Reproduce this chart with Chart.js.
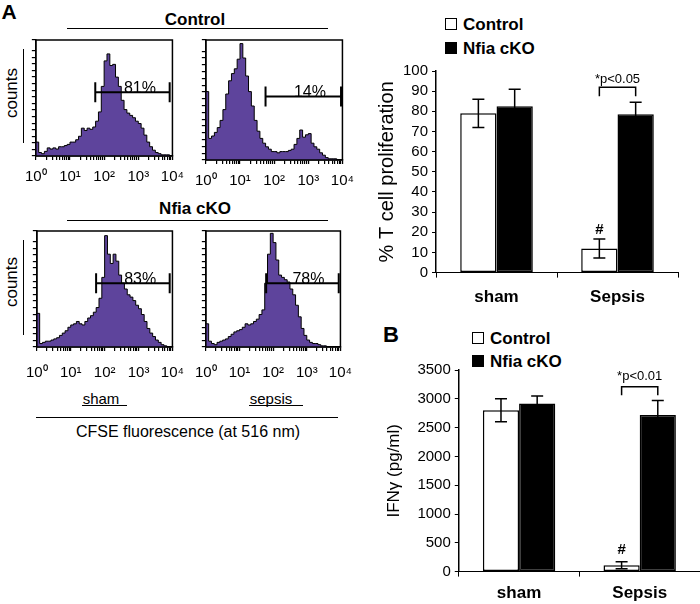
<!DOCTYPE html>
<html>
<head>
<meta charset="utf-8">
<script src="https://cdn.jsdelivr.net/npm/chart.js@4.4.0/dist/chart.umd.min.js"></script>
<style>
body{margin:0;width:700px;height:604px;background:#fff;position:relative;overflow:hidden;font-family:"Liberation Sans",Arial,sans-serif;color:#000}
canvas{position:absolute}
.t{position:absolute;white-space:nowrap;line-height:1;transform:translate(-50%,-50%)}
.l{position:absolute;white-space:nowrap;line-height:1;transform:translateY(-50%)}
.b{font-weight:bold}
.hl{position:absolute;height:0;border-top:1.5px solid #000}
.vl{position:absolute;width:0;border-left:1.5px solid #000}
.sq{position:absolute;box-sizing:border-box;border:1.5px solid #000}
</style>
</head>
<body>
<div class="t b" style="left:9px;top:11px;font-size:21px">A</div>
<div class="t b" style="left:195px;top:19px;font-size:17px">Control</div>
<div class="hl" style="left:67px;top:28px;width:261px"></div>
<div class="t b" style="left:195px;top:208px;font-size:17px">Nfia cKO</div>
<div class="hl" style="left:67px;top:220px;width:261px"></div>
<div class="t" style="left:11px;top:93px;font-size:17px;transform:translate(-50%,-50%) rotate(-90deg)">counts</div>
<div class="vl" style="left:23px;top:49px;height:94px"></div>
<div class="t" style="left:11px;top:282px;font-size:17px;transform:translate(-50%,-50%) rotate(-90deg)">counts</div>
<div class="vl" style="left:23px;top:240px;height:95px"></div>
<div class="t" style="left:101px;top:398px;font-size:15px">sham</div>
<div class="hl" style="left:82px;top:405px;width:45px;border-top-width:1px"></div>
<div class="t" style="left:271px;top:398px;font-size:15px">sepsis</div>
<div class="hl" style="left:249px;top:405px;width:54px;border-top-width:1px"></div>
<div class="hl" style="left:36px;top:417px;width:302px"></div>
<div class="t" style="left:188px;top:432px;font-size:16px">CFSE fluorescence (at 516 nm)</div>

<div class="sq" style="left:445px;top:18px;width:12px;height:12px"></div>
<div class="l b" style="left:463px;top:24px;font-size:17px">Control</div>
<div class="sq" style="left:445px;top:42px;width:12px;height:12px;background:#000"></div>
<div class="l b" style="left:463px;top:48px;font-size:17px">Nfia cKO</div>
<div class="t b" style="left:391px;top:335px;font-size:22px">B</div>
<div class="sq" style="left:472px;top:332px;width:12px;height:12px"></div>
<div class="l b" style="left:490px;top:338px;font-size:17px">Control</div>
<div class="sq" style="left:472px;top:355px;width:12px;height:12px;background:#000"></div>
<div class="l b" style="left:490px;top:361px;font-size:17px">Nfia cKO</div>

<canvas id="h1" style="left:17px;top:38px" width="175" height="156"></canvas>
<canvas id="h2" style="left:187px;top:38px" width="175" height="160"></canvas>
<canvas id="h3" style="left:13px;top:229px" width="184" height="166"></canvas>
<canvas id="h4" style="left:182px;top:229px" width="183" height="166"></canvas>
<canvas id="barA" style="left:370px;top:58px" width="330" height="260"></canvas>
<canvas id="barB" style="left:380px;top:355px" width="320" height="256"></canvas>

<script>
// CFSE histograms: 12 log bins per decade from 10^0 to 10^4, height as % of frame
const binsPerDecade = 12;
const decadeLabels = ['10⁰', '10¹', '10²', '10³', '10⁴'];
const shamControl = [12,3,2,4,7,6,7,6,8,8,9,10, 12,12,14,17,24,22,24,23,25,30,38,60, 82,88,78,79,68,60,48,40,37,35,33,30, 28,24,18,12,8,5,3,2,1,1,1,0];
const sepsisControl = [57,18,20,23,27,33,42,55,66,72,76,84, 97,85,70,57,45,33,24,18,14,11,9,7, 7,6,7,7,7,8,9,13,18,25,19,21, 22,14,11,9,6,4,2,1,1,1,0,0];
const shamCko = [29,3,4,5,5,6,7,8,10,12,14,17, 19,20,22,20,19,22,25,27,30,34,42,60, 96,80,72,80,74,62,55,50,45,43,40,36, 33,28,22,16,12,9,6,4,2,1,0,0];
const sepsisCko = [20,5,3,2,4,5,6,7,9,11,13,14, 15,17,20,19,20,22,24,28,32,55,80,98, 90,75,62,60,58,56,50,45,36,26,16,10, 6,4,3,3,2,1,1,0,0,0,0,0];
const gateLabels = ['81%', '14%', '83%', '78%'];
const gateFrom = [55, 56, 56, 62];
const gateTo = [8300, 9100, 8300, 8900];
const gateLevel = [55, 53, 55, 55];

// bar charts
const groups = ['sham', 'Sepsis'];
const prolifControl = [79, 12];
const prolifControlErr = [7, 4.7];
const prolifCko = [82.5, 78.5];
const prolifCkoErr = [8.5, 6];
const ifnControl = [2800, 110];
const ifnControlErr = [200, 60];
const ifnCko = [2920, 2720];
const ifnCkoErr = [130, 250];

const purple = '#5e449c';
Chart.defaults.font.family = '"Liberation Sans", Arial, sans-serif';
Chart.defaults.color = '#000';

const frame = {
  id: 'frame',
  afterDraw(chart) {
    const a = chart.chartArea, ctx = chart.ctx;
    ctx.save();
    ctx.strokeStyle = '#000';
    ctx.lineWidth = 1.5;
    ctx.strokeRect(a.left, a.top, a.right - a.left, a.bottom - a.top);
    ctx.restore();
  }
};

const gate = {
  id: 'gate',
  afterDatasetsDraw(chart, args, o) {
    const {ctx, scales: {x, y}} = chart;
    const x1 = x.getPixelForValue(o.from), x2 = x.getPixelForValue(o.to);
    const yy = y.getPixelForValue(o.level);
    ctx.save();
    ctx.strokeStyle = '#000';
    ctx.lineWidth = 2;
    ctx.beginPath();
    ctx.moveTo(x1, yy); ctx.lineTo(x2, yy);
    ctx.moveTo(x1, yy - 10); ctx.lineTo(x1, yy + 10);
    ctx.moveTo(x2, yy - 10); ctx.lineTo(x2, yy + 10);
    ctx.stroke();
    ctx.fillStyle = '#000';
    ctx.font = '16px "Liberation Sans", Arial';
    ctx.textAlign = 'center';
    ctx.fillText(o.label, x.getPixelForValue(1120), yy + 1);
    ctx.restore();
  }
};

function histogram(id, counts, g, labelPad) {
  const pts = counts.map((c, i) => ({x: Math.pow(10, i / binsPerDecade), y: c}));
  pts.push({x: 10000, y: 0});
  return new Chart(document.getElementById(id), {
    type: 'line',
    data: {datasets: [{data: pts, stepped: true, fill: 'origin', backgroundColor: purple,
      borderColor: '#000', borderWidth: 1, pointRadius: 0}]},
    options: {
      responsive: false, animation: false,
      layout: {padding: {left: 0, right: 0, top: 2, bottom: 0}},
      plugins: {legend: {display: false}, tooltip: {enabled: false},
        gate: {from: gateFrom[g], to: gateTo[g], level: gateLevel[g], label: gateLabels[g]}},
      scales: {
        x: {
          type: 'logarithmic', min: 1, max: 10000,
          afterBuildTicks: s => {
            const t = [];
            for (let e = 0; e < 4; e++) for (let k = 1; k < 10; k++) t.push({value: k * Math.pow(10, e)});
            t.push({value: 10000});
            s.ticks = t;
          },
          ticks: {autoSkip: false, maxRotation: 0, padding: labelPad, font: {size: 15},
            callback: v => {
              const e = Math.round(Math.log10(v));
              return Math.abs(Math.pow(10, e) - v) < 1e-6 ? decadeLabels[e] : '';
            }},
          grid: {drawOnChartArea: false, tickLength: 4, color: '#000', lineWidth: 1.2},
          border: {color: '#000', width: 1.5}
        },
        y: {
          min: 0, max: 100,
          ticks: {display: false, stepSize: 5.67},
          grid: {drawOnChartArea: false, tickLength: 4, color: '#000', lineWidth: 1.2},
          border: {color: '#000', width: 1.5},
          afterFit: s => { s.width = 0; }
        }
      }
    },
    plugins: [frame, gate]
  });
}

const errorBars = {
  id: 'errorBars',
  afterDatasetsDraw(chart) {
    const {ctx, scales: {y}} = chart;
    ctx.save();
    ctx.strokeStyle = '#000';
    ctx.lineWidth = 1.5;
    chart.data.datasets.forEach((ds, d) => {
      chart.getDatasetMeta(d).data.forEach((bar, i) => {
        const top = y.getPixelForValue(ds.data[i] + ds.err[i]);
        const bot = y.getPixelForValue(ds.data[i] - ds.err[i]);
        ctx.beginPath();
        ctx.moveTo(bar.x, top); ctx.lineTo(bar.x, bot);
        ctx.moveTo(bar.x - 6, top); ctx.lineTo(bar.x + 6, top);
        ctx.moveTo(bar.x - 6, bot); ctx.lineTo(bar.x + 6, bot);
        ctx.stroke();
      });
    });
    ctx.restore();
  }
};

const notes = {
  id: 'notes',
  afterDatasetsDraw(chart, args, o) {
    const {ctx, scales: {y}} = chart;
    const xa = chart.getDatasetMeta(0).data[1].x, xb = chart.getDatasetMeta(1).data[1].x;
    const top = y.getPixelForValue(o.bracket), leg = y.getPixelForValue(o.leg);
    ctx.save();
    ctx.strokeStyle = '#000';
    ctx.lineWidth = 1.5;
    ctx.beginPath();
    ctx.moveTo(xa, leg); ctx.lineTo(xa, top); ctx.lineTo(xb, top); ctx.lineTo(xb, leg);
    ctx.stroke();
    ctx.fillStyle = '#000';
    ctx.textAlign = 'center';
    ctx.textBaseline = 'middle';
    ctx.font = '13px "Liberation Sans", Arial';
    ctx.fillText(o.text, (xa + xb) / 2, y.getPixelForValue(o.textAt));
    ctx.font = 'bold 15px "Liberation Sans", Arial';
    ctx.fillText('#', xa, y.getPixelForValue(o.hashAt));
    ctx.restore();
  }
};

function barChart(id, ctrl, ctrlErr, cko, ckoErr, yMax, yStep, yTitle, titleSize, titlePad, note, pad) {
  return new Chart(document.getElementById(id), {
    type: 'bar',
    data: {labels: groups, datasets: [
      {label: 'Control', data: ctrl, err: ctrlErr, backgroundColor: '#fff', borderColor: '#000', borderWidth: 1.5, borderSkipped: false},
      {label: 'Nfia cKO', data: cko, err: ckoErr, backgroundColor: '#000', borderColor: '#000', borderWidth: 1.5, borderSkipped: false}
    ]},
    options: {
      responsive: false, animation: false,
      layout: {padding: pad},
      datasets: {bar: {categoryPercentage: 0.6, barPercentage: 1}},
      plugins: {legend: {display: false}, tooltip: {enabled: false}, notes: note},
      scales: {
        x: {
          grid: {offset: true, drawOnChartArea: false, tickLength: 5, color: '#000'},
          border: {color: '#000', width: 1},
          ticks: {font: {size: 17, weight: 'bold'}, padding: pad.labels}
        },
        y: {
          min: 0, max: yMax,
          ticks: {stepSize: yStep, autoSkip: false, font: {size: 15}, padding: 4,
            callback: v => String(v)},
          grid: {drawOnChartArea: false, tickLength: 4, color: '#000'},
          border: {color: '#000', width: 1.5},
          title: {display: true, text: yTitle, font: {size: titleSize}, padding: titlePad}
        }
      }
    },
    plugins: [errorBars, notes]
  });
}

histogram('h1', shamControl, 0, 8);
histogram('h2', sepsisControl, 1, 8);
histogram('h3', shamCko, 2, 13);
histogram('h4', sepsisCko, 3, 13);
barChart('barA', prolifControl, prolifControlErr, prolifCko, prolifCkoErr, 100, 10,
  '% T cell proliferation', 20, {top: 2, bottom: 0},
  {bracket: 92, leg: 87.5, text: '*p<0.05', textAt: 96, hashAt: 21},
  {left: 3, right: 22, top: 9, bottom: 0, labels: 10});
barChart('barB', ifnControl, ifnControlErr, ifnCko, ifnCkoErr, 3500, 500,
  'IFNγ (pg/ml)', 17, {top: 2, bottom: 9},
  {bracket: 3210, leg: 3060, text: '*p<0.01', textAt: 3380, hashAt: 380},
  {left: 2, right: 0, top: 15, bottom: 0, labels: 7});
</script>
</body>
</html>
